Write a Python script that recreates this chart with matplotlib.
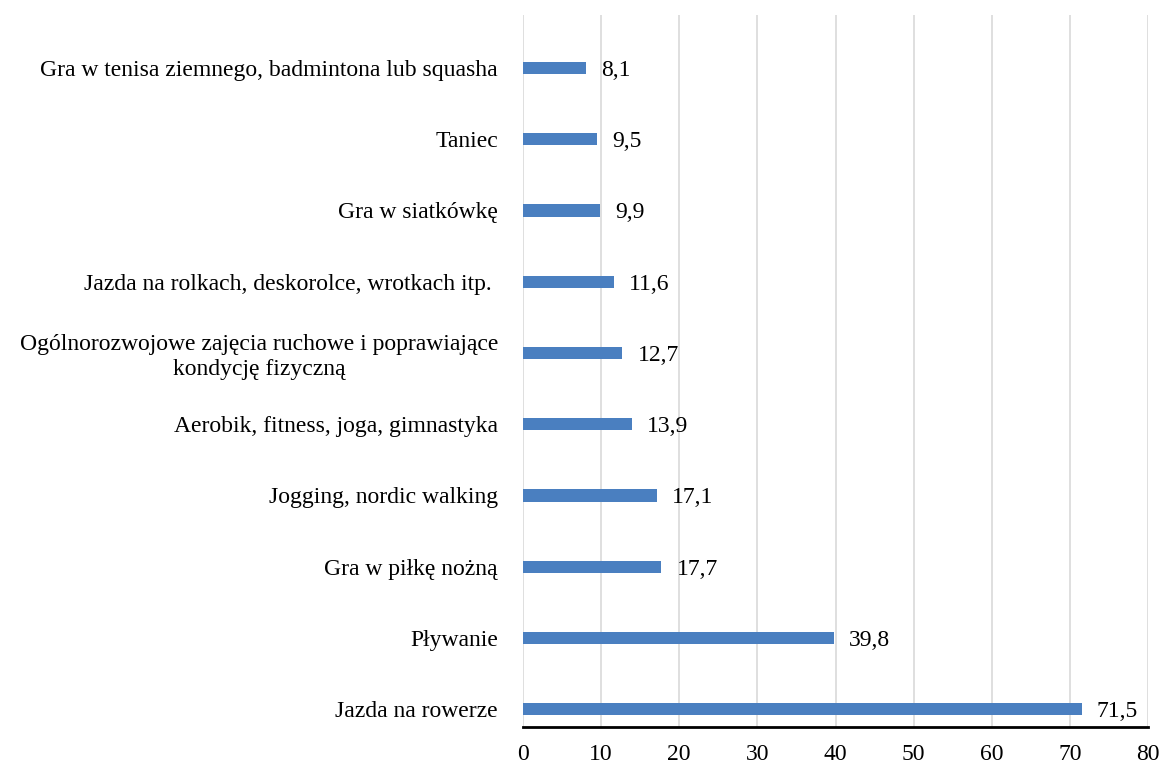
import matplotlib.pyplot as plt

# data, bottom to top as drawn
categories = [
    'Jazda na rowerze',
    'Pływanie',
    'Gra w piłkę nożną',
    'Jogging, nordic walking',
    'Aerobik, fitness, joga, gimnastyka',
    'Ogólnorozwojowe zajęcia ruchowe i poprawiające\nkondycję fizyczną',
    'Jazda na rolkach, deskorolce, wrotkach itp. ',
    'Gra w siatkówkę',
    'Taniec',
    'Gra w tenisa ziemnego, badmintona lub squasha',
]
values = [71.5, 39.8, 17.7, 17.1, 13.9, 12.7, 11.6, 9.9, 9.5, 8.1]
x_ticks = [0, 10, 20, 30, 40, 50, 60, 70, 80]

plt.rcParams['font.family'] = 'Liberation Serif'

fig = plt.figure(figsize=(11.6, 7.65), dpi=100)
ax = fig.add_axes([523 / 1160, 1 - 727 / 765, (1148 - 523) / 1160, (727 - 15) / 765])

pos = list(range(len(categories)))
ax.barh(pos, values, height=0.17, color='#4a7fc0', zorder=3)

for p, v in zip(pos, values):
    ax.annotate(f'{v:.1f}'.replace('.', ','), (v, p), xytext=(11, 0),
                textcoords='offset points', va='center_baseline', ha='left', fontsize=17)

ax.set_xlim(0, 80)
ax.set_ylim(-0.25, 9.744)
ax.set_xticks(x_ticks)
ax.set_yticks(pos)
ax.set_yticklabels(categories, fontsize=17, multialignment='center', linespacing=1.25)
ax.tick_params(axis='x', labelsize=17, length=0, pad=12)
ax.tick_params(axis='y', length=0, pad=18)
ax.grid(axis='x', color='#dcdcdc', linewidth=1.3, zorder=0)

for s in ['top', 'right', 'left']:
    ax.spines[s].set_visible(False)
ax.spines['bottom'].set_color('black')
ax.spines['bottom'].set_linewidth(2)
ax.spines['bottom'].set_zorder(4)

fig.savefig('out.png', dpi=100)
